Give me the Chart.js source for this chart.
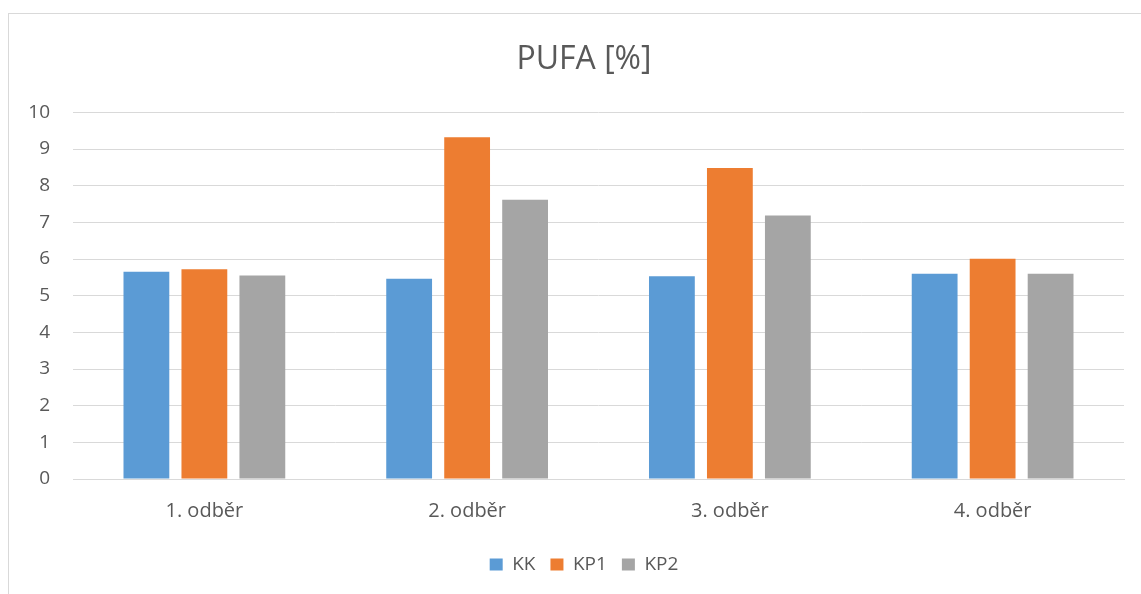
<!DOCTYPE html>
<html>
<head>
<meta charset="utf-8">
<script src="https://cdn.jsdelivr.net/npm/chart.js@4/dist/chart.umd.min.js"></script>
<style>
  html, body { margin: 0; padding: 0; background: #fff; overflow: hidden; }
  #wrap { position: relative; width: 1141px; height: 594px; overflow: hidden; }
  #frame { position: absolute; left: 8px; top: 13px; width: 1200px; height: 700px; border: 1px solid #d9d9d9; box-sizing: border-box; }
  canvas { position: absolute; left: 0; top: 0; }
</style>
</head>
<body>
<div id="wrap">
  <div id="frame"></div>
  <canvas id="c" width="1168" height="594"></canvas>
</div>
<script>
const categories = ["1. odběr", "2. odběr", "3. odběr", "4. odběr"];
const seriesNames = ["KK", "KP1", "KP2"];
const KK  = [5.65, 5.46, 5.53, 5.60];
const KP1 = [5.72, 9.32, 8.48, 6.01];
const KP2 = [5.55, 7.62, 7.19, 5.60];
const yTicks = [0, 1, 2, 3, 4, 5, 6, 7, 8, 9, 10];
const colors = ["#5b9bd5", "#ed7d31", "#a5a5a5"];

const FONT = "'Open Sans', Lato, sans-serif";
const TXT = "#595959";

new Chart(document.getElementById("c"), {
  type: "bar",
  data: {
    labels: categories,
    datasets: [KK, KP1, KP2].map((d, i) => ({
      label: seriesNames[i],
      data: d,
      backgroundColor: colors[i],
      borderWidth: 0,
      categoryPercentage: 0.662,
      barPercentage: 0.79
    }))
  },
  options: {
    responsive: false,
    animation: false,
    devicePixelRatio: 1,
    layout: { padding: { left: 0, right: 0, top: 0, bottom: 10 } },
    plugins: {
      title: {
        display: true,
        text: "PUFA [%]",
        color: TXT,
        font: { family: FONT, size: 32, weight: "normal" },
        padding: { top: 41, bottom: 33 }
      },
      legend: {
        position: "bottom",
        labels: {
          color: TXT,
          font: { family: FONT, size: 19 },
          boxWidth: 13,
          boxHeight: 12,
          padding: 15
        }
      },
      tooltip: { enabled: false }
    },
    scales: {
      x: {
        afterFit: (axis) => { axis.height -= 3; },
        grid: { display: false, drawTicks: false },
        border: { display: true, color: "#d9d9d9", width: 1 },
        ticks: { color: TXT, font: { family: FONT, size: 20 }, padding: 20 }
      },
      y: {
        min: 0,
        max: 10,
        afterBuildTicks: (axis) => { axis.ticks = yTicks.map(v => ({ value: v })); },
        afterFit: (axis) => { axis.width = 73; },
        grid: { color: "#d9d9d9", drawTicks: false, lineWidth: 1 },
        border: { display: false },
        ticks: { color: TXT, font: { family: FONT, size: 19 }, padding: 23 }
      },
      yRight: {
        type: "linear",
        position: "right",
        display: true,
        min: 0,
        max: 10,
        afterFit: (axis) => { axis.width = 44; },
        grid: { display: false, drawTicks: false },
        border: { display: false },
        ticks: { display: false }
      }
    }
  }
});
</script>
</body>
</html>
